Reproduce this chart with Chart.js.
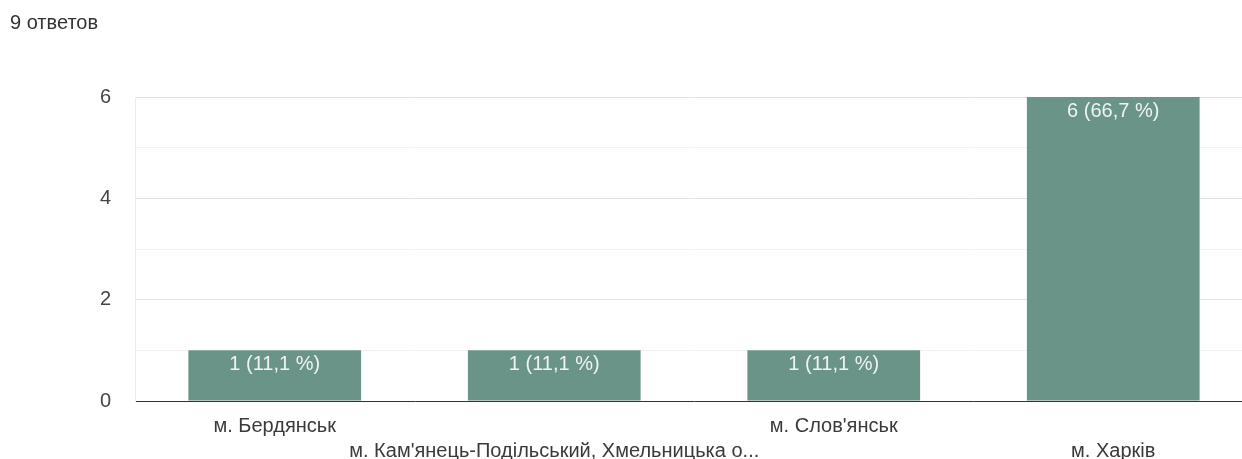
<!DOCTYPE html>
<html>
<head>
<meta charset="utf-8">
<script src="https://cdn.jsdelivr.net/npm/chart.js@4/dist/chart.umd.min.js"></script>
<style>
  body { margin: 0; overflow: hidden; background: #fff; font-family: "Liberation Sans", Arial, sans-serif; }
  #wrap { position: relative; width: 1242px; height: 459px; overflow: hidden; }
  #title { position: absolute; left: 10px; top: 11px; font-size: 20px; color: #333; }
  canvas { position: absolute; left: 0; top: 0; }
</style>
</head>
<body>
<div id="wrap">
  <canvas id="chart" width="1253" height="459"></canvas>
  <div id="title">9 ответов</div>
</div>
<script>
// answers per city
const cities = ["м. Бердянськ", "м. Кам'янець-Подільський, Хмельницька о...", "м. Слов'янськ", "м. Харків"];
const counts = [1, 1, 1, 6];
const percents = ["11,1", "11,1", "11,1", "66,7"];
const yTicks = [0, 2, 4, 6];

const barLabels = {
    id: 'barLabels',
    afterDatasetsDraw(chart) {
        const ctx = chart.ctx;
        const meta = chart.getDatasetMeta(0);
        ctx.save();
        ctx.font = '20px "Liberation Sans", Arial, sans-serif';
        ctx.fillStyle = '#eef4f2';
        ctx.textAlign = 'center';
        ctx.textBaseline = 'middle';
        meta.data.forEach((bar, i) => {
            ctx.fillText(counts[i] + ' (' + percents[i] + ' %)', bar.x, bar.y + 14);
        });
        ctx.restore();
    }
};

new Chart(document.getElementById("chart"), {
    type: 'bar',
    data: {
        labels: cities,
        datasets: [{
            data: counts,
            backgroundColor: '#6a9488',
            barPercentage: 0.618,
            categoryPercentage: 1
        }]
    },
    options: {
        responsive: false,
        animation: false,
        layout: { padding: { top: 97, left: 0, right: 0, bottom: 0 } },
        plugins: { legend: { display: false }, tooltip: { enabled: false } },
        scales: {
            x: {
                grid: { display: false, drawTicks: false },
                border: { display: false },
                afterFit: s => { s.height = 58; },
                ticks: {
                    autoSkip: false,
                    maxRotation: 0,
                    minRotation: 0,
                    padding: 13,
                    color: '#3a3a3a',
                    font: { family: '"Liberation Sans", Arial, sans-serif', size: 20, lineHeight: '25px' },
                    callback: function(value, index) {
                        const label = this.getLabelForValue(value);
                        return index % 2 === 1 ? ['', label] : label;
                    }
                }
            },
            y: {
                min: 0,
                max: 6,
                afterFit: s => { s.width = 135; },
                border: { display: true, color: '#ececec' },
                grid: {
                    drawTicks: false,
                    color: c => c.tick.value === 0 ? '#333' : (c.tick.value % 2 === 0 ? '#e2e2e2' : '#f2f2f2')
                },
                ticks: {
                    stepSize: 1,
                    padding: 24,
                    color: '#444',
                    font: { family: '"Liberation Sans", Arial, sans-serif', size: 20 },
                    callback: v => yTicks.includes(v) ? v : ''
                }
            }
        }
    },
    plugins: [barLabels]
});
</script>
</body>
</html>
